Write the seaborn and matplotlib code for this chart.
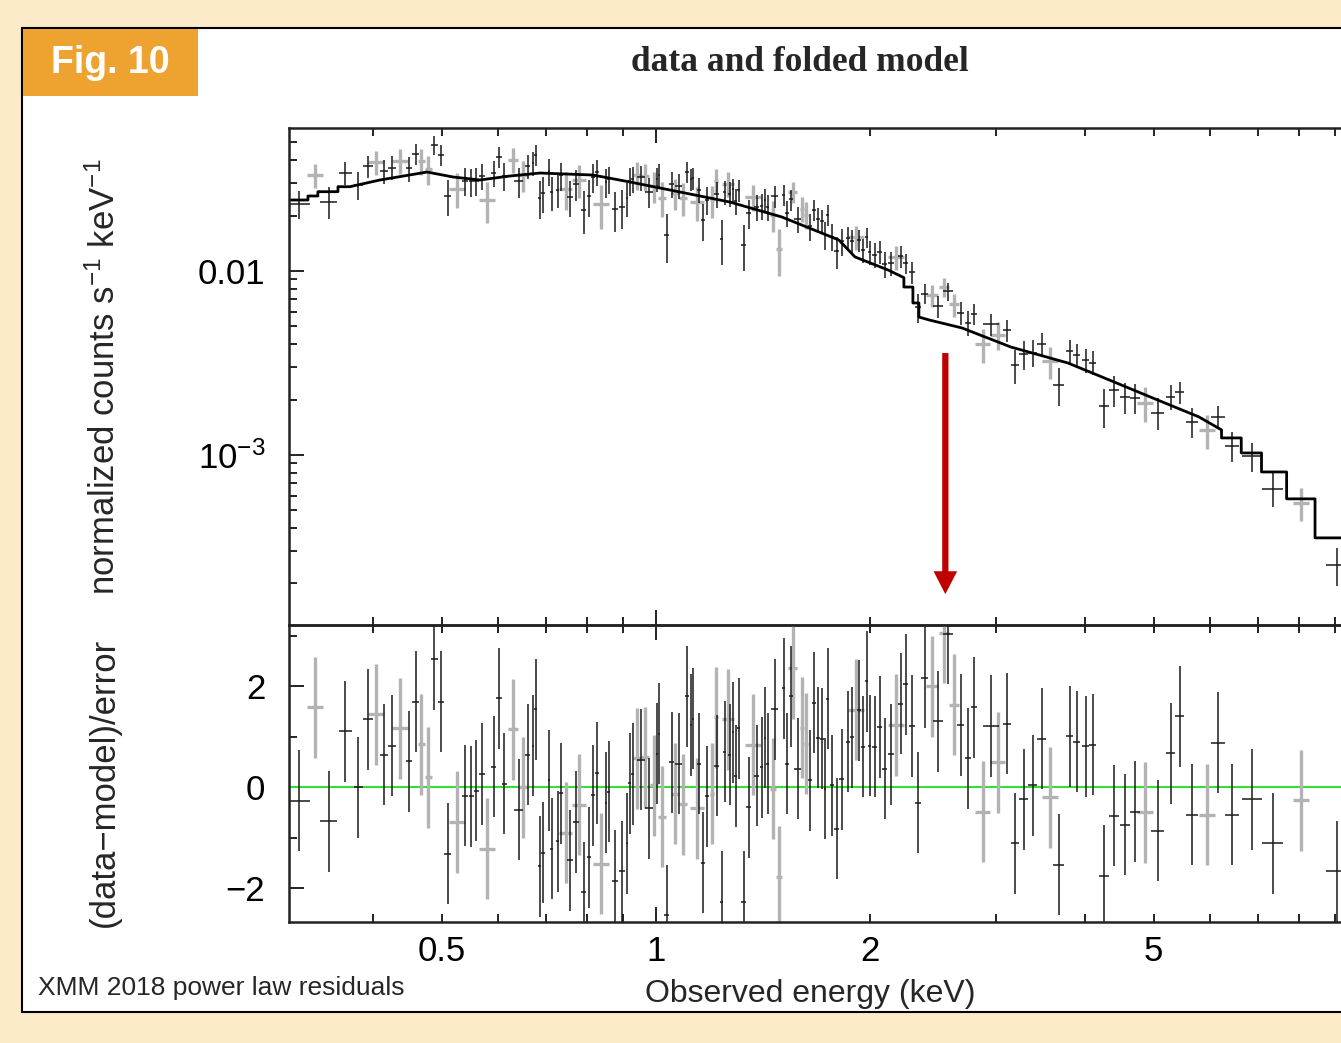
import numpy as np
import pandas as pd
import seaborn as sns
import matplotlib.pyplot as plt
from matplotlib.patches import Rectangle
from matplotlib.ticker import FixedLocator, FixedFormatter, FuncFormatter, NullFormatter

# folded power-law model (keV, normalized counts s^-1 keV^-1), step edges included
model_energy = [0.3052, 0.3245, 0.3245, 0.3351, 0.3351, 0.3576, 0.3576, 0.3716,
                0.4097, 0.4770, 0.5187, 0.5659, 0.6235, 0.6872, 0.8156, 0.9194,
                1.081, 1.270, 1.503, 1.807, 1.904, 2.118, 2.230, 2.230, 2.296, 2.296,
                2.341, 2.341, 2.418, 2.691, 3.152, 3.791, 4.328, 4.941, 5.789, 6.23, 6.23,
                6.64, 6.64, 7.09, 7.09, 7.69, 7.69, 8.43, 8.43, 9.4]
model_counts = [0.02431, 0.02431, 0.02557, 0.02557, 0.02698, 0.02698, 0.02872, 0.02872,
                0.03124, 0.03451, 0.03243, 0.03124, 0.03283, 0.03408, 0.03324, 0.03047,
                0.02687, 0.02371, 0.01965, 0.01474, 0.01192, 0.01013, 0.00920, 0.00818,
                0.00818, 0.00670, 0.00670, 0.00562, 0.00542, 0.00490, 0.00386, 0.00316,
                0.00256, 0.00207, 0.00161, 0.001368, 0.001237, 0.001237, 0.001025,
                0.001025, 0.000808, 0.000808, 0.000577, 0.000577, 0.000354, 0.000354]

# first data set (black): energy (keV) and (data-model)/error
black_energy = [0.315, 0.347, 0.366, 0.382, 0.394, 0.415, 0.426, 0.450, 0.460, 0.488,
                0.499, 0.510, 0.539, 0.550, 0.559, 0.570, 0.592, 0.602, 0.612, 0.642,
                0.661, 0.672, 0.678, 0.687, 0.694, 0.708, 0.714, 0.728, 0.736, 0.757,
                0.772, 0.792, 0.805, 0.816, 0.826, 0.851, 0.859, 0.876, 0.896, 0.911,
                0.919, 0.928, 0.953, 0.978, 1.003, 1.010, 1.036, 1.053, 1.077, 1.105,
                1.120, 1.127, 1.149, 1.164, 1.179, 1.218, 1.238, 1.250, 1.270, 1.283,
                1.295, 1.308, 1.329, 1.351, 1.386, 1.409, 1.423, 1.436, 1.469, 1.513,
                1.528, 1.548, 1.583, 1.646, 1.667, 1.689, 1.711, 1.728, 1.744, 1.767,
                1.796, 1.825, 1.861, 1.885, 1.928, 1.953, 1.978, 1.998, 2.030, 2.063,
                2.097, 2.138, 2.208, 2.244, 2.288, 2.333, 2.386, 2.489, 2.571, 2.681,
                2.743, 2.797, 2.954, 3.112, 3.193, 3.288, 3.385, 3.485, 3.681, 3.815,
                3.902, 4.017, 4.109, 4.258, 4.398, 4.557, 4.707, 5.072, 5.290, 5.445,
                5.661, 6.157, 6.442, 6.873, 7.357, 9.048]
black_resid = [-0.27, -0.68, 1.11, 0.00, 1.34, 0.64, 0.82, 0.51, 1.69, 2.53,
               1.69, -1.32, -0.17, -0.18, -0.07, 0.26, 0.40, 1.76, 0.07, -0.45,
               0.64, 0.82, 1.54, -1.57, -1.30, 0.14, -1.22, -1.07, -0.12, -1.45,
               -0.69, -2.08, -1.39, -0.16, 0.28, -0.31, -0.09, -1.85, -1.67, -1.11,
               0.08, 0.26, 0.54, -0.42, 0.66, 1.06, -2.54, 0.49, 0.46, 1.80,
               1.23, 1.35, 0.46, -1.50, -0.18, 0.42, -2.27, 0.70, 0.64, 1.09,
               0.22, 1.17, -2.27, -0.40, 0.23, 0.39, 0.98, 0.46, 1.54, 1.96,
               0.46, 1.80, 0.36, 0.14, 1.67, 0.98, 0.96, -0.03, 1.75, 0.04,
               -0.82, 0.16, 0.90, 0.99, 1.52, 0.80, 2.10, 0.82, 0.80, 1.19,
               0.36, 0.65, 1.65, 2.04, 1.21, -0.31, 2.17, 1.30, 3.04, 1.23,
               0.57, 1.58, 1.21, 1.25, -1.11, -0.24, 0.04, 0.96, -1.54, 1.01,
               0.90, 0.81, 0.84, -1.75, -0.57, -0.74, -0.49, -0.86, 0.67, 1.40,
               -0.55, 0.88, -0.55, -0.24, -1.11, -1.67]

# second data set (gray)
gray_energy = [0.332, 0.404, 0.437, 0.468, 0.479, 0.525, 0.579, 0.630, 0.650, 0.747,
               0.780, 0.837, 0.940, 0.965, 0.994, 1.020, 1.063, 1.091, 1.142, 1.199,
               1.215, 1.262, 1.368, 1.460, 1.489, 1.557, 1.604, 1.624, 1.910, 2.173,
               2.441, 2.538, 2.621, 2.879, 3.022, 3.576, 4.862, 5.942, 8.053]
gray_resid = [1.58, 1.44, 1.17, 0.85, 0.20, -0.69, -1.22, 1.15, 0.00, -0.90,
              -0.35, -1.52, 0.57, 0.59, 0.04, -0.59, -0.13, -0.34, -0.42, -0.13,
              1.38, 1.34, 0.84, -0.03, -1.77, 2.35, 1.18, 0.86, 1.53, 1.23,
              2.00, 3.06, 1.63, -0.49, 0.49, -0.20, -0.50, -0.55, -0.26]

black_frac_err = 0.17
gray_frac_err = 0.19

sns.set_style('ticks')
plt.rcParams['font.family'] = ['Liberation Sans', 'DejaVu Sans']
plt.rcParams['mathtext.fontset'] = 'custom'
plt.rcParams['mathtext.rm'] = 'Liberation Sans'
plt.rcParams['mathtext.default'] = 'regular'


def half_bins(e, cap):
    le = np.log10(e)
    g = np.diff(le) / 2
    left = np.r_[g[0], g]
    right = np.r_[g, g[-1]]
    return np.minimum(np.minimum(left, right), cap)


def make_set(energy, resid, frac, cap):
    e = np.array(energy)
    r = np.array(resid)
    m = 10 ** np.interp(np.log10(e), np.log10(model_energy), np.log10(model_counts))
    err = frac * m
    df = pd.DataFrame({'energy': e, 'resid': r, 'counts': m + r * err, 'err': err})
    h = half_bins(e, cap)
    df['xlo'] = e - e * 10 ** (-h)
    df['xhi'] = e * 10 ** h - e
    return df


black = make_set(black_energy, black_resid, black_frac_err, 0.016)
gray = make_set(gray_energy, gray_resid, gray_frac_err, 0.011)
model = pd.DataFrame({'energy': model_energy, 'counts': model_counts})

fig = plt.figure(figsize=(13.41, 10.43), dpi=100)
fig.patch.set_facecolor('#FBEBC8')
fig.add_artist(Rectangle((0.0164, 0.0297), 1.0, 0.9434, transform=fig.transFigure,
                         facecolor='white', edgecolor='black', lw=1.5, zorder=-5))
fig.add_artist(Rectangle((0.0172, 0.908), 0.1305, 0.0642, transform=fig.transFigure,
                         facecolor='#EEA331', edgecolor='none', zorder=-4))
fig.text(0.082, 0.9395, 'Fig. 10', color='white', fontsize=27, fontweight='bold',
         ha='center', va='center')
fig.text(0.5966, 0.9405, 'data and folded model', family='Liberation Serif',
         fontweight='bold', fontsize=25.5, ha='center', va='center')

ax1 = fig.add_axes([0.2155, 0.4008, 0.79, 0.4765])
ax2 = fig.add_axes([0.2155, 0.1160, 0.79, 0.2848])

blk = '#1a1a1a'
gry = '#b3b3b3'

# top panel
ax1.errorbar(gray['energy'], gray['counts'], xerr=[gray['xlo'], gray['xhi']],
             yerr=gray['err'], fmt='none', ecolor=gry, elinewidth=2.4)
ax1.errorbar(black['energy'], black['counts'], xerr=[black['xlo'], black['xhi']],
             yerr=black['err'], fmt='none', ecolor=blk, elinewidth=1.1)
sns.lineplot(data=model, x='energy', y='counts', estimator=None, sort=False,
             color='black', lw=2.0, ax=ax1)
ax1.annotate('', xy=(2.55, 1.75e-4), xytext=(2.55, 3.58e-3),
             arrowprops=dict(facecolor='#C00000', edgecolor='none', width=4.5,
                             headwidth=17, headlength=16.5, shrink=0))

# bottom panel
ax2.axhline(0, color='#33E033', lw=1.5, zorder=1)
ax2.errorbar(gray['energy'], gray['resid'], xerr=[gray['xlo'], gray['xhi']],
             yerr=1, fmt='none', ecolor=gry, elinewidth=2.4)
ax2.errorbar(black['energy'], black['resid'], xerr=[black['xlo'], black['xhi']],
             yerr=1, fmt='none', ecolor=blk, elinewidth=1.1)

minor_e = [0.4, 0.5, 0.6, 0.7, 0.8, 0.9, 2, 3, 4, 5, 6, 7, 8, 9]
lab = {0.5: '0.5', 2.0: '2', 5.0: '5'}
for ax in (ax1, ax2):
    ax.set_xscale('log')
    ax.set_xlim(0.3052, 9.39)
    ax.xaxis.set_major_locator(FixedLocator([1]))
    ax.xaxis.set_minor_locator(FixedLocator(minor_e))
    ax.tick_params(which='both', direction='in', top=True, right=False,
                   width=1.4, colors='#222222', labelsize=25, labelcolor='black')
    ax.tick_params(which='major', length=11)
    ax.tick_params(which='minor', length=5.5)
    ax.tick_params(axis='y', which='both', pad=17)
    ax.tick_params(axis='x', which='both', pad=9)
    for s in ax.spines.values():
        s.set_linewidth(1.8)
        s.set_color('#222222')
    ax.set_xlabel('')
    ax.set_ylabel('')
    ax.set_facecolor('none')

ax1.xaxis.set_major_formatter(NullFormatter())
ax1.xaxis.set_minor_formatter(NullFormatter())
ax2.xaxis.set_major_formatter(FixedFormatter(['1']))
ax2.xaxis.set_minor_formatter(FuncFormatter(lambda v, p: lab.get(round(v, 2), '')))

ax1.set_yscale('log')
ax1.set_ylim(1.19e-4, 0.0599)
ax1.yaxis.set_major_locator(FixedLocator([1e-3, 1e-2]))
ax1.yaxis.set_major_formatter(FixedFormatter(['10$^{-3}$', '0.01']))
ax1.yaxis.set_minor_locator(FixedLocator([2e-4, 3e-4, 4e-4, 5e-4, 6e-4, 7e-4, 8e-4, 9e-4,
                                          2e-3, 3e-3, 4e-3, 5e-3, 6e-3, 7e-3, 8e-3, 9e-3,
                                          2e-2, 3e-2, 4e-2, 5e-2]))
ax1.yaxis.set_minor_formatter(NullFormatter())

ax2.set_ylim(-2.67, 3.21)
ax2.yaxis.set_major_locator(FixedLocator([-2, 0, 2]))
ax2.yaxis.set_major_formatter(FixedFormatter(['\u22122', '0', '2']))
ax2.yaxis.set_minor_locator(FixedLocator([-1, 1, 3]))

fig.text(0.078, 0.6385, 'normalized counts s$^{-1}$ keV$^{-1}$', rotation=90,
         fontsize=25, ha='center', va='center')
fig.text(0.078, 0.2502, '(data\u2212model)/error', rotation=90,
         fontsize=25, ha='center', va='center')
fig.text(0.604, 0.047, 'Observed energy (keV)', fontsize=23, ha='center', va='center')
fig.text(0.0283, 0.0527, 'XMM 2018 power law residuals', fontsize=19,
         ha='left', va='center')

fig.savefig('out.png', dpi=100, facecolor=fig.get_facecolor())
